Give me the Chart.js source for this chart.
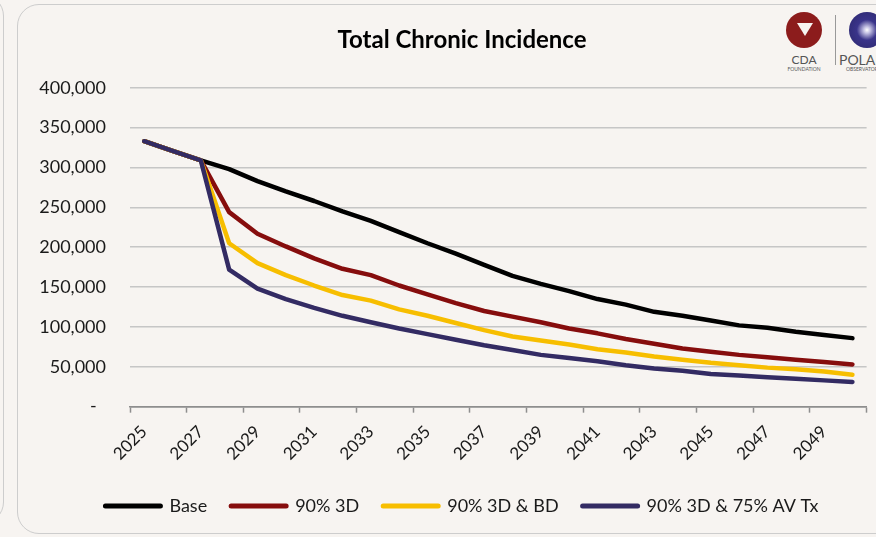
<!DOCTYPE html>
<html lang="en">
<head>
  <meta charset="UTF-8">
  <title>Total Chronic Incidence</title>
  <script src="https://cdn.jsdelivr.net/npm/chart.js"></script>
  <style>
    body {
      margin: 0;
      width: 876px;
      height: 537px;
      overflow: hidden;
      background: #f7f4f1;
      font-family: 'Lato', sans-serif;
      position: relative;
    }
    .card {
      position: absolute;
      background: #f7f4f1;
      border: 1.5px solid #cdcdcd;
      border-radius: 22px;
    }
    #chart-wrap {
      position: absolute;
      left: 17px;
      top: 4px;
      width: 859px;
      height: 529px;
    }
    .logo { position: absolute; color: #555; text-align: center; }
  </style>
</head>
<body>
  <div class="card" style="left:-220px; top:-6px; width:222px; height:528px;"></div>
  <div class="card" style="left:17px; top:4px; width:920px; height:528px;"></div>

  <!-- logos top right -->
  <div class="logo" style="left:786px; top:12px; width:36px; height:36px; border-radius:50%; background:#8c1c1c;">
    <div style="position:absolute; left:11px; top:11px; width:0; height:0; border-left:8px solid transparent; border-right:8px solid transparent; border-top:13px solid #f7f4f1;"></div>
  </div>
  <div class="logo" style="left:784px; top:53px; width:40px; font-size:12px; line-height:13px;">CDA</div>
  <div class="logo" style="left:780px; top:66px; width:48px; font-size:5px; line-height:6px;">FOUNDATION</div>
  <div style="position:absolute; left:835px; top:15px; width:1px; height:50px; background:#999;"></div>
  <div class="logo" style="left:849px; top:12px; width:36px; height:36px; border-radius:50%; background:radial-gradient(circle, #ffffff 0, #c9c6e6 12%, #3a348a 40%, #2b276a 100%);"></div>
  <div class="logo" style="left:839px; top:52px; font-size:14px; line-height:15px; text-align:left;">POLARIS</div>
  <div class="logo" style="left:846px; top:66px; font-size:5px; line-height:6px; text-align:left;">OBSERVATORY</div>

  <div id="chart-wrap">
    <canvas id="lineChart" width="859" height="529"></canvas>
  </div>

  <script>
    const years = ['2025', '2026', '2027', '2028', '2029', '2030', '2031', '2032', '2033', '2034',
                   '2035', '2036', '2037', '2038', '2039', '2040', '2041', '2042', '2043', '2044',
                   '2045', '2046', '2047', '2048', '2049', '2050'];

    const base = [333000, 321000, 309000, 298000, 283000, 270000, 258000, 245000, 233000, 219000,
                  205000, 192000, 178000, 164000, 154000, 145000, 135000, 128000, 119000, 114000,
                  108000, 102000, 99000, 94000, 90000, 86000];
    const dx3d = [333000, 321000, 309000, 244000, 217000, 201000, 186000, 173000, 165000, 152000,
                  141000, 130000, 120000, 113000, 106000, 98000, 92000, 85000, 79000, 73000,
                  69000, 65000, 62000, 59000, 56000, 53000];
    const dx3dBD = [333000, 321000, 309000, 205000, 180000, 165000, 152000, 140000, 133000, 122000,
                    114000, 105000, 96000, 88000, 83000, 78000, 72000, 68000, 63000, 59000,
                    55000, 52000, 49000, 47000, 44000, 40000];
    const dx3dAV = [333000, 321000, 309000, 172000, 148000, 135000, 124000, 114000, 106000, 98000,
                    91000, 84000, 77000, 71000, 65000, 61000, 57000, 52000, 48000, 45000,
                    41000, 39000, 37000, 35000, 33000, 31000];

    const seriesNames = ['Base', '90% 3D', '90% 3D & BD', '90% 3D & 75% AV Tx'];
    const seriesColors = ['#000000', '#860d0d', '#f7be00', '#332b63'];
    const seriesData = [base, dx3d, dx3dBD, dx3dAV];

    Chart.defaults.font.family = 'Lato';
    Chart.defaults.color = '#1a1a1a';

    const datasets = seriesData.map((d, i) => ({
      label: seriesNames[i],
      data: d,
      borderColor: seriesColors[i],
      backgroundColor: seriesColors[i],
      borderWidth: 4.5,
      borderCapStyle: 'round',
      borderJoinStyle: 'round',
      pointRadius: 0,
      pointHoverRadius: 0,
      pointBorderWidth: 4.5,
      tension: 0,
      order: seriesData.length - i   // last series drawn on top
    }));

    // y labels sit left of the narrowed y box, so let them draw there
    const yLabelRoom = {
      id: 'yLabelRoom',
      afterLayout: (chart) => { chart.scales.y.left = 0; }
    };

    new Chart(document.getElementById('lineChart'), {
      type: 'line',
      data: { labels: years, datasets: datasets },
      plugins: [yLabelRoom],
      options: {
        responsive: false,
        animation: false,
        layout: { padding: { left: 38, right: 7, top: 0, bottom: 8 } },
        plugins: {
          title: {
            display: true,
            text: 'Total Chronic Incidence',
            color: '#000',
            font: { size: 24, weight: 'bold' },
            padding: { top: 22, bottom: 33 }
          },
          legend: {
            position: 'bottom',
            labels: {
              usePointStyle: true,
              pointStyle: 'line',
              pointStyleWidth: 55,
              padding: 24,
              color: '#1a1a1a',
              font: { size: 18 },
              sort: (a, b) => a.datasetIndex - b.datasetIndex,
              generateLabels: (chart) =>
                Chart.defaults.plugins.legend.labels.generateLabels(chart).map(l => ({
                  ...l, lineWidth: 5, lineCap: 'round'
                }))
            }
          },
          tooltip: { enabled: false }
        },
        scales: {
          x: {
            offset: true,
            afterFit: (s) => { s.paddingLeft = 0; },
            grid: {
              offset: true,
              drawOnChartArea: false,
              drawTicks: true,
              tickLength: 6,
              tickWidth: 1.5,
              tickColor: (ctx) => (ctx.index === undefined || ctx.index % 2 === 0) ? '#8e8e8e' : 'rgba(0,0,0,0)'
            },
            border: { display: true, color: '#8e8e8e', width: 1.5 },
            ticks: {
              autoSkip: false,
              minRotation: 45,
              maxRotation: 45,
              padding: 9,
              font: { size: 17 },
              callback: (v, i) => i % 2 === 0 ? years[i] : ''
            }
          },
          y: {
            min: 0,
            max: 400000,
            afterFit: (s) => { s.width = 75; },
            grid: {
              drawTicks: false,
              lineWidth: 1.5,
              color: (ctx) => ctx.tick && ctx.tick.value === 0 ? '#8e8e8e' : '#c6c6c6'
            },
            border: { display: false },
            ticks: {
              stepSize: 50000,
              padding: 24,
              font: { size: 18 },
              callback: (v) => v === 0 ? '-  ' : v.toLocaleString('en-US')
            }
          }
        }
      }
    });
  </script>
</body>
</html>
